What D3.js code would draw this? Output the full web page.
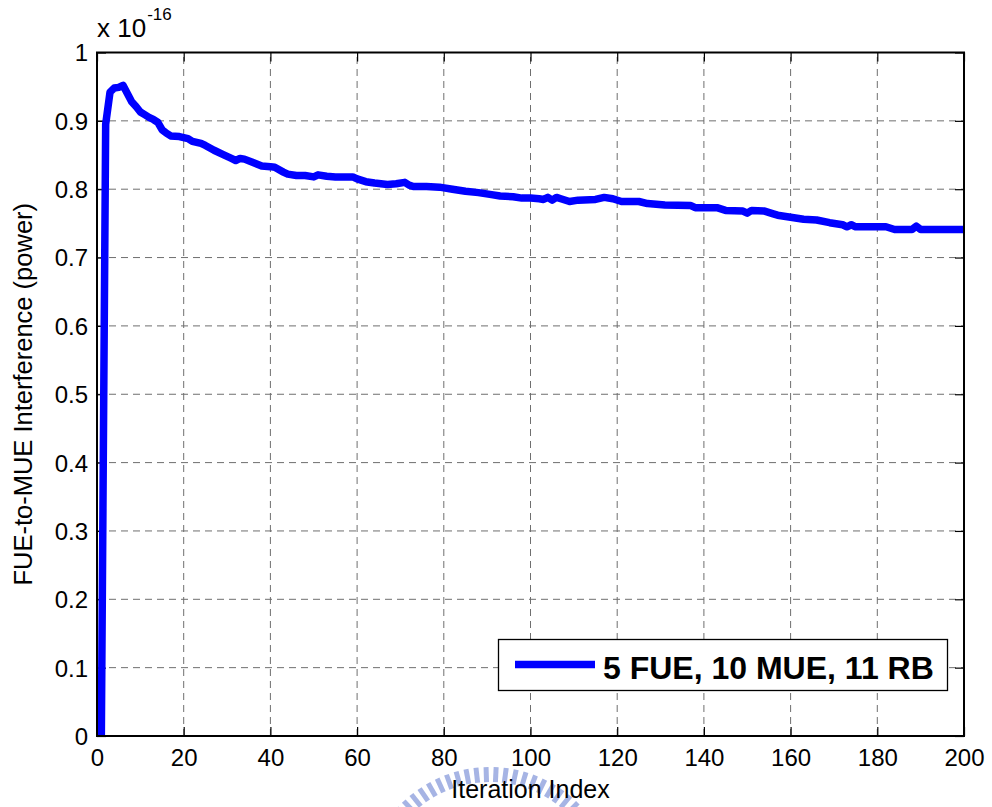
<!DOCTYPE html>
<html>
<head>
<meta charset="utf-8">
<script src="https://cdn.jsdelivr.net/npm/d3@7"></script>
<style>
  html, body { margin: 0; padding: 0; background: #fff; }
  svg { display: block; font-family: "Liberation Sans", Arial, Helvetica, sans-serif; }
</style>
</head>
<body>
<svg id="chart" width="992" height="807"></svg>
<script>
// Iteration index and FUE-to-MUE interference (units of 1e-16)
const iterations = [1, 2, 3, 4, 5, 6, 7, 8, 9, 10, 11, 12, 13, 14, 15, 16, 17, 19, 21, 22,
  24, 25, 27, 29, 31, 32, 33, 34, 36, 38, 40, 41, 43, 44, 46, 48, 50, 51, 53, 55,
  59, 60, 62, 64, 67, 69, 71, 72, 73, 76, 79, 82, 85, 88, 91, 93, 96, 98, 100, 102,
  103, 104, 105, 106, 107, 109, 111, 115, 117, 119, 121, 125, 127, 131, 137, 138, 143, 145, 149, 150,
  151, 154, 156, 157, 160, 163, 166, 169, 172, 173, 174, 175, 182, 184, 188, 189, 190, 200];
const interference = [0, 0.895, 0.942, 0.948, 0.949, 0.952, 0.940, 0.928, 0.921, 0.913, 0.909, 0.905, 0.902, 0.898, 0.887, 0.882, 0.878, 0.877, 0.874, 0.870,
  0.867, 0.864, 0.857, 0.851, 0.845, 0.842, 0.845, 0.844, 0.839, 0.834, 0.833, 0.832, 0.825, 0.822, 0.820, 0.820, 0.818, 0.821, 0.819, 0.818,
  0.818, 0.815, 0.811, 0.809, 0.807, 0.808, 0.810, 0.806, 0.804, 0.804, 0.803, 0.800, 0.797, 0.795, 0.792, 0.790, 0.789, 0.787, 0.787, 0.786,
  0.785, 0.788, 0.784, 0.788, 0.786, 0.782, 0.784, 0.785, 0.788, 0.786, 0.782, 0.782, 0.779, 0.777, 0.776, 0.773, 0.773, 0.769, 0.768, 0.765,
  0.769, 0.768, 0.764, 0.762, 0.759, 0.756, 0.755, 0.751, 0.748, 0.745, 0.748, 0.745, 0.745, 0.741, 0.741, 0.746, 0.741, 0.741];

const xTicks = [0, 20, 40, 60, 80, 100, 120, 140, 160, 180, 200];
const yTicks = [0, 0.1, 0.2, 0.3, 0.4, 0.5, 0.6, 0.7, 0.8, 0.9, 1];
const yTickLabels = ["0", "0.1", "0.2", "0.3", "0.4", "0.5", "0.6", "0.7", "0.8", "0.9", "1"];
const seriesName = "5 FUE, 10 MUE, 11 RB";

const svg = d3.select("#chart");
const box = { left: 97, right: 964, top: 52.5, bottom: 736 };

const x = d3.scaleLinear().domain([0, 200]).range([box.left, box.right]);
const y = d3.scaleLinear().domain([0, 1]).range([box.bottom, box.top]);

// faint circular seal behind the x-axis title
const seal = svg.append("g");
const sealC = { x: 490, y: 893 };
d3.range(-170, -8, 4.6).forEach(a => {
  const r = a * Math.PI / 180;
  seal.append("line")
    .attr("x1", sealC.x + 111 * Math.cos(r)).attr("y1", sealC.y + 111 * Math.sin(r))
    .attr("x2", sealC.x + 126 * Math.cos(r)).attr("y2", sealC.y + 126 * Math.sin(r))
    .attr("stroke", "#a6b4e4").attr("stroke-width", 5);
});

// grid
const grid = svg.append("g").attr("stroke", "#6f6f6f").attr("stroke-width", 1)
  .attr("stroke-dasharray", "7,5").attr("fill", "none");
xTicks.slice(1, -1).forEach(t => {
  grid.append("line").attr("x1", x(t)).attr("x2", x(t)).attr("y1", box.bottom).attr("y2", box.top);
});
yTicks.slice(1, -1).forEach(t => {
  grid.append("line").attr("x1", box.left).attr("x2", box.right).attr("y1", y(t)).attr("y2", y(t));
});

// axes with inward ticks on all four sides
const tickLen = 9;
const axB = svg.append("g").attr("transform", `translate(0,${box.bottom})`)
  .call(d3.axisBottom(x).tickValues(xTicks).tickSizeInner(-tickLen).tickSizeOuter(0).tickPadding(13));
const axT = svg.append("g").attr("transform", `translate(0,${box.top})`)
  .call(d3.axisTop(x).tickValues(xTicks).tickSizeInner(-tickLen).tickSizeOuter(0).tickFormat(""));
const axL = svg.append("g").attr("transform", `translate(${box.left},0)`)
  .call(d3.axisLeft(y).tickValues(yTicks).tickSizeInner(-tickLen).tickSizeOuter(0).tickPadding(9)
    .tickFormat((d, i) => yTickLabels[i]));
const axR = svg.append("g").attr("transform", `translate(${box.right},0)`)
  .call(d3.axisRight(y).tickValues(yTicks).tickSizeInner(-tickLen).tickSizeOuter(0).tickFormat(""));

[axB, axT, axL, axR].forEach(g => {
  g.select(".domain").remove();
  g.selectAll(".tick line").attr("stroke", "#000").attr("stroke-width", 1.2);
  g.selectAll("text").attr("fill", "#000").attr("font-size", 24)
    .attr("font-family", "Liberation Sans, Arial, sans-serif");
});
axB.selectAll("text").attr("dy", "0.71em");
axL.selectAll("text").attr("dy", "0.35em");

// data line, clipped to the axes box
svg.append("clipPath").attr("id", "plotClip").append("rect")
  .attr("x", box.left).attr("y", box.top)
  .attr("width", box.right - box.left).attr("height", box.bottom - box.top);

const pts = iterations.map((it, i) => [it, interference[i]]);
svg.append("path")
  .datum(pts)
  .attr("clip-path", "url(#plotClip)")
  .attr("fill", "none")
  .attr("stroke", "#0000ff")
  .attr("stroke-width", 7.5)
  .attr("stroke-linejoin", "round")
  .attr("d", d3.line().x(d => x(d[0])).y(d => y(d[1])));

// axes box
svg.append("rect")
  .attr("x", box.left).attr("y", box.top)
  .attr("width", box.right - box.left).attr("height", box.bottom - box.top)
  .attr("fill", "none").attr("stroke", "#000").attr("stroke-width", 2);

// exponent label
const expo = svg.append("text").attr("x", box.left).attr("y", 37)
  .attr("font-size", 26).attr("fill", "#000");
expo.append("tspan").text("x 10");
expo.append("tspan").attr("dx", 1).attr("dy", -17).attr("font-size", 17).text("-16");

// axis titles
svg.append("text")
  .attr("x", (box.left + box.right) / 2).attr("y", 798)
  .attr("text-anchor", "middle").attr("font-size", 25).attr("fill", "#000")
  .text("Iteration Index");
svg.append("text")
  .attr("transform", `translate(32,${(box.top + box.bottom) / 2}) rotate(-90)`)
  .attr("text-anchor", "middle").attr("font-size", 25.5).attr("fill", "#000")
  .text("FUE-to-MUE Interference (power)");

// legend
const lg = svg.append("g");
lg.append("rect").attr("x", 498.5).attr("y", 639.5).attr("width", 449).attr("height", 51)
  .attr("fill", "#fff").attr("stroke", "#000").attr("stroke-width", 1.3);
lg.append("line").attr("x1", 515).attr("x2", 595).attr("y1", 664.5).attr("y2", 664.5)
  .attr("stroke", "#0000ff").attr("stroke-width", 7.5);
lg.append("text").attr("x", 603).attr("y", 679).attr("font-size", 32).attr("font-weight", "bold")
  .attr("fill", "#000").text(seriesName);
</script>
</body>
</html>
